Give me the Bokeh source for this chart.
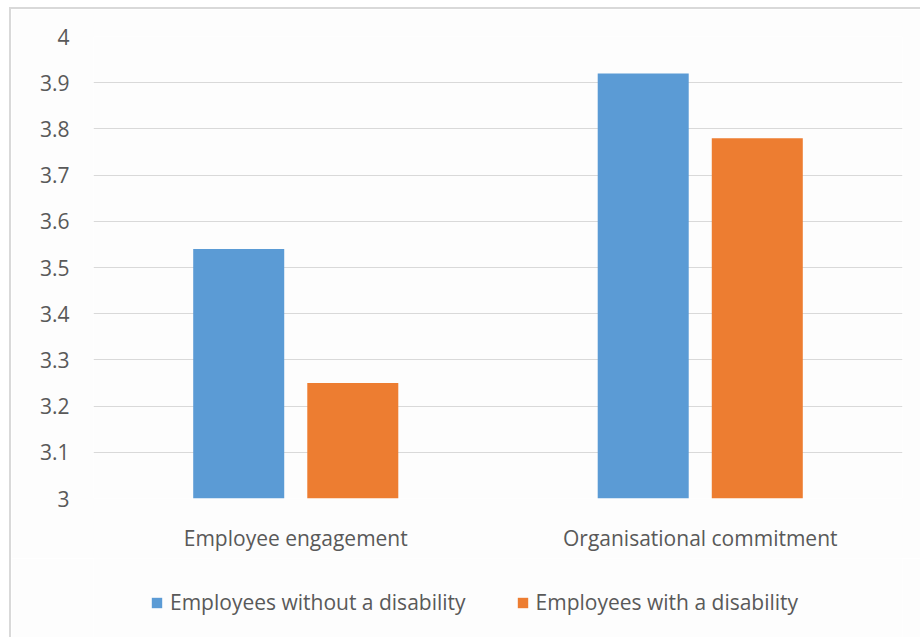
from bokeh.plotting import figure
from bokeh.layouts import column
from bokeh.models import ColumnDataSource, FactorRange, Range1d, Legend, LegendItem, FixedTicker
from bokeh.transform import dodge
from bokeh.embed import file_html
from bokeh.resources import INLINE

categories = ["Employee engagement", "Organisational commitment"]
series_names = ["Employees without a disability", "Employees with a disability"]
series_colors = ["#5B9BD5", "#ED7D31"]
without_disability = [3.54, 3.92]
with_disability = [3.25, 3.78]
y_ticks = [3, 3.1, 3.2, 3.3, 3.4, 3.5, 3.6, 3.7, 3.8, 3.9, 4]
tick_labels = {3: "3", 3.1: "3.1", 3.2: "3.2", 3.3: "3.3", 3.4: "3.4", 3.5: "3.5",
               3.6: "3.6", 3.7: "3.7", 3.8: "3.8", 3.9: "3.9", 4: "4"}

FONT = "Open Sans"
TXT = "#595959"
BG = "#fdfdfd"
NAN = float("nan")

src = ColumnDataSource(dict(cat=categories, a=without_disability, b=with_disability,
                            base=[3, 3]))

p = figure(width=909, height=549, x_range=FactorRange(*categories, range_padding=0),
           y_range=Range1d(3, 4), output_backend="svg", toolbar_location=None,
           min_border_left=82, min_border_top=27, min_border_right=18, min_border_bottom=60)
p.background_fill_color = BG
p.border_fill_color = BG
p.outline_line_color = None

p.vbar(x=dodge("cat", -0.141, range=p.x_range), top="a", bottom="base", width=0.225,
       source=src, fill_color=series_colors[0], line_color=None)
p.vbar(x=dodge("cat", 0.141, range=p.x_range), top="b", bottom="base", width=0.225,
       source=src, fill_color=series_colors[1], line_color=None)

p.xgrid.grid_line_color = None
p.ygrid.grid_line_color = "#d9d9d9"
p.ygrid.grid_line_width = 1

p.yaxis.ticker = FixedTicker(ticks=y_ticks)
p.yaxis.major_label_overrides = tick_labels
for ax in (p.xaxis[0], p.yaxis[0]):
    ax.axis_line_color = None
    ax.major_tick_line_color = None
    ax.minor_tick_line_color = None
    ax.major_label_text_font = FONT
    ax.major_label_text_color = TXT
p.yaxis.major_label_text_font_size = "21px"
p.xaxis.major_label_text_font_size = "21px"
p.yaxis.major_label_standoff = 18
p.xaxis.major_label_standoff = 19

# legend strip below the chart (legend swatches take their colours from the series)
lp = figure(width=909, height=79, x_range=Range1d(0, 1), y_range=Range1d(0, 1),
            output_backend="svg", toolbar_location=None,
            min_border_left=0, min_border_right=0, min_border_top=0, min_border_bottom=0)
lp.axis.visible = False
lp.grid.visible = False
lp.outline_line_color = None
lp.background_fill_color = BG
lp.border_fill_color = BG
key_src = ColumnDataSource(dict(x=[NAN, NAN], top=[NAN, NAN], color=series_colors,
                                name=series_names))
keys = lp.vbar(x="x", top="top", width=0.1, source=key_src, fill_color="color",
               line_color=None)

legend = Legend(items=[LegendItem(label=series_names[0], renderers=[keys], index=0),
                       LegendItem(label=series_names[1], renderers=[keys], index=1)],
                orientation="horizontal", location=(57, 21),
                label_text_font=FONT, label_text_font_size="21px", label_text_color=TXT,
                glyph_width=13, glyph_height=13, spacing=50, padding=0, margin=0,
                border_line_color=None, background_fill_alpha=0, label_standoff=7)
lp.add_layout(legend, "center")

layout = column(p, lp, spacing=0)
layout.styles = {"border-top": "2px solid #d9d9d9", "border-left": "2px solid #d9d9d9",
                 "margin-left": "9px", "margin-top": "7px"}

open("out.html", "w").write(file_html(layout, INLINE))
